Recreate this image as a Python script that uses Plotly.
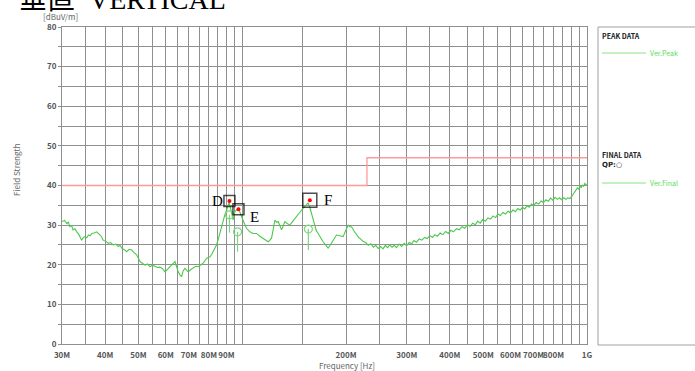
import math
import plotly.graph_objects as go

# ---------------- data ----------------
peak_freq_mhz = [
    30.0, 30.5, 31.0, 31.3, 31.6, 32.0, 32.3, 32.7, 33.1, 33.6, 34.2, 34.6, 35.0, 35.4, 35.8, 36.2,
    36.6, 37.2, 37.8, 38.2, 38.7, 39.1, 39.5, 40.2, 40.9, 41.5, 42.2, 43.0, 43.7, 44.2, 44.7, 45.5,
    46.2, 47.0, 47.8, 48.6, 49.4, 50.0, 50.5, 51.3, 52.2, 53.1, 54.0, 54.9, 55.8, 56.8, 57.7, 58.7,
    59.7, 60.7, 61.7, 62.7, 63.8, 64.5, 65.2, 66.0, 66.7, 67.4, 68.2, 69.0, 69.7, 70.9, 72.1, 73.3,
    74.5, 75.8, 77.0, 77.9, 78.8, 79.7, 80.6, 81.5, 82.4, 83.3, 84.2, 85.1, 86.1, 87.0, 88.0, 89.0,
    90.1, 90.8, 91.6, 92.3, 93.1, 93.6, 94.1, 94.6, 95.2, 96.2, 97.3, 98.4, 99.5, 101.0, 102.9, 104.0,
    105.2, 107.5, 110.0, 112.5, 115.0, 117.0, 118.9, 120.2, 121.6, 122.9, 124.3, 125.7, 127.1, 128.5,
    130.0, 131.4, 132.9, 135.0, 137.4, 139.7, 142.1, 144.5, 146.9, 149.3, 151.8, 153.5, 155.2, 157.0,
    158.8, 160.5, 162.3, 164.0, 166.0, 168.8, 171.6, 174.5, 177.4, 179.5, 181.5, 184.5, 187.6, 191.8,
    196.1, 199.5, 202.8, 205.0, 207.4, 211.0, 214.4, 218.0,
    220, 224, 228, 232, 236, 240, 244, 248, 252, 256, 260, 264, 268, 272, 276, 280, 285, 290, 295,
    300, 305, 310, 315, 320, 326, 332, 338, 344, 350, 356, 362, 368, 375, 382, 389, 396, 403, 410,
    418, 426, 434, 442, 450, 458, 466, 474, 482, 490, 498, 507, 516, 525, 534, 543, 552, 561, 570,
    580, 590, 600, 610, 620, 630, 640, 650, 660, 670, 680, 690, 700, 712, 724, 736, 748, 760, 772,
    784, 796, 808, 820, 832, 844, 856, 868, 880, 892, 904, 914, 922, 930, 938, 946, 954, 962, 970,
    978, 986, 994, 1000,
]
peak_level = [
    30.9, 31.2, 30.4, 30.8, 29.6, 29.9, 28.8, 29.1, 28.3, 27.6, 26.2, 26.9, 27.1, 26.8, 27.5, 27.3,
    27.9, 28.0, 28.3, 28.0, 27.5, 27.0, 26.2, 25.9, 25.4, 25.6, 25.0, 25.2, 24.6, 24.9, 24.2, 23.8,
    23.3, 23.9, 23.7, 23.0, 22.5, 21.6, 20.8, 20.4, 19.9, 20.2, 19.5, 19.9, 19.7, 19.3, 19.4, 19.0,
    18.2, 18.9, 19.5, 20.1, 20.8, 19.5, 18.2, 17.4, 17.0, 18.5, 19.1, 18.6, 18.2, 18.8, 19.1, 19.6,
    19.5, 19.9, 20.4, 21.0, 21.6, 21.8, 22.0, 22.6, 23.3, 24.2, 25.0, 26.3, 27.9, 29.6, 31.3, 32.6,
    33.8, 34.8, 35.7, 34.6, 33.0, 31.8, 31.3, 32.5, 33.4, 33.8, 34.3, 33.3, 32.1, 30.8, 29.2, 28.8,
    28.3, 27.9, 27.9, 27.2, 26.7, 26.1, 25.8, 26.2, 26.7, 28.8, 31.3, 30.7, 30.9, 29.9,
    28.8, 29.8, 30.9, 30.4, 30.0, 30.8, 31.7, 32.5, 33.4, 34.0, 34.7, 35.2, 35.6, 34.5,
    33.0, 31.3, 29.6, 28.6, 27.9, 26.8, 25.8, 25.0, 24.2, 24.8, 25.4, 26.5, 27.5, 27.3,
    27.1, 28.6, 30.0, 29.6, 29.6, 28.5, 27.5, 26.8,
    26.6, 25.9, 25.6, 24.9, 25.3, 24.4, 24.9, 24.1, 24.6, 24.0, 24.9, 24.3, 25.0, 24.4, 24.9, 24.3, 25.2, 24.6, 25.4,
    24.8, 25.6, 25.3, 26.1, 25.7, 26.5, 26.2, 26.9, 26.6, 27.4, 26.9, 27.6, 27.2, 28.0, 27.6, 28.4, 27.9, 28.7, 28.3,
    29.1, 28.8, 29.6, 29.2, 30.1, 29.7, 30.5, 30.1, 31.0, 30.5, 31.4, 31.0, 31.8, 31.5, 32.3, 31.9, 32.8, 32.4, 33.2,
    32.8, 33.5, 33.1, 33.8, 33.4, 34.2, 33.8, 34.5, 34.1, 34.9, 34.5, 35.3, 34.9, 35.7, 35.3, 36.1, 35.7, 36.4, 36.0,
    36.8, 36.3, 37.0, 36.5, 36.9, 36.4, 36.9, 36.5, 36.9, 36.7, 37.3, 37.9, 38.6, 38.9, 39.4, 39.1, 39.8, 39.5, 40.1,
    39.8, 40.5, 40.2, 40.1,
]

limit_freq_mhz = [30, 230, 230, 1000]
limit_level = [40, 40, 47, 47]

final_freq_mhz = [91.8, 96.9, 155.5]
final_level = [32.6, 28.3, 29.0]
final_sweep_drop = [4.5, 5.0, 5.3]

marker_names = ["D", "E", "F"]
marker_freq_mhz = [91.8, 97.5, 157.0]
marker_level = [36.1, 34.0, 36.3]
marker_box_size = [11, 11, 14]
marker_label_shift = [(-12, 0), (16, -8), (18, 0)]

x_grid_mhz = [30, 35, 40, 45, 50, 55, 60, 65, 70, 75, 80, 85, 90, 95, 100,
              150, 200, 250, 300, 350, 400, 450, 500, 550, 600, 650, 700, 750, 800, 850, 900, 950, 1000]
x_tick_text = ["30M", "", "40M", "", "50M", "", "60M", "", "70M", "", "80M", "", "90M", "", "",
               "", "200M", "", "300M", "", "400M", "", "500M", "", "600M", "", "700M", "", "800M", "", "", "", "1G"]
y_grid = [0, 5, 10, 15, 20, 25, 30, 35, 40, 45, 50, 55, 60, 65, 70, 75, 80]
y_tick_text = ["0", "", "10", "", "20", "", "30", "", "40", "", "50", "", "60", "", "70", "", "80"]

# ---------------- figure ----------------
GREEN = "#4cc84c"
GRID = "#8f8f8f"
TICKFONT = dict(family="Noto Sans CJK JP", size=8, color="#555555", weight="bold")

fig = go.Figure()

fig.add_trace(go.Scatter(x=limit_freq_mhz, y=limit_level, mode="lines",
                         line=dict(color="#ff9a9a", width=1.3), hoverinfo="skip"))
fig.add_trace(go.Scatter(x=peak_freq_mhz, y=peak_level, mode="lines",
                         line=dict(color=GREEN, width=1.1), hoverinfo="skip"))
fig.add_trace(go.Scatter(x=final_freq_mhz, y=final_level, mode="markers",
                         marker=dict(symbol="circle-open", size=8, color="#7ed67e", line=dict(width=1.2)),
                         error_y=dict(type="data", symmetric=False, array=[0] * len(final_level),
                                      arrayminus=final_sweep_drop, width=0, color="#7ed67e", thickness=1.2),
                         hoverinfo="skip"))
fig.add_trace(go.Scatter(x=marker_freq_mhz, y=marker_level, mode="markers",
                         marker=dict(symbol="square-open", size=marker_box_size, color="black",
                                     line=dict(width=1.5, color="black")), hoverinfo="skip"))
fig.add_trace(go.Scatter(x=marker_freq_mhz, y=marker_level, mode="markers",
                         marker=dict(symbol="circle", size=4, color="red"), hoverinfo="skip"))

for name, f, lv, (dx, dy) in zip(marker_names, marker_freq_mhz, marker_level, marker_label_shift):
    fig.add_annotation(x=math.log10(f), y=lv, xref="x", yref="y", text=name, showarrow=False,
                       xshift=dx, yshift=dy, font=dict(family="Liberation Serif", size=15, color="black"))

fig.update_xaxes(type="log", range=[math.log10(30), math.log10(1000)],
                 tickmode="array", tickvals=x_grid_mhz, ticktext=x_tick_text, tickangle=0,
                 showgrid=True, gridcolor=GRID, gridwidth=1, zeroline=False,
                 showline=True, linecolor=GRID, linewidth=1, mirror=True, automargin=False,
                 ticks="", tickfont=TICKFONT, ticklabelstandoff=3)
fig.update_yaxes(range=[0, 80], tickmode="array", tickvals=y_grid, ticktext=y_tick_text,
                 showgrid=True, gridcolor=GRID, gridwidth=1, zeroline=False,
                 showline=True, linecolor=GRID, linewidth=1, mirror=True, automargin=False,
                 ticks="outside", ticklen=3, tickcolor=GRID, tickfont=TICKFONT)

L, R, T, B = 62, 108, 27, 27
W, H = 695, 371
pw, ph = W - L - R, H - T - B

def px(xp):
    return (xp - L) / pw

def py(yp):
    return (H - B - yp) / ph

# legend box
fig.add_shape(type="rect", xref="paper", yref="paper", x0=px(598), x1=px(720), y0=py(345), y1=py(27),
              line=dict(color="#a0a0a0", width=1), fillcolor="white", layer="below")
small_bold = dict(family="Noto Sans CJK JP", size=7, color="#222222", weight="bold")
green_txt = dict(family="Noto Sans CJK JP", size=7, color="#55dd55")
fig.add_annotation(xref="paper", yref="paper", x=px(600), y=py(36), text="PEAK DATA", showarrow=False,
                   xanchor="left", yanchor="middle", font=small_bold)
fig.add_shape(type="line", xref="paper", yref="paper", x0=px(602), x1=px(646), y0=py(53), y1=py(53),
              line=dict(color="#88e088", width=1))
fig.add_annotation(xref="paper", yref="paper", x=px(648), y=py(53), text="Ver.Peak", showarrow=False,
                   xanchor="left", yanchor="middle", font=green_txt)
fig.add_annotation(xref="paper", yref="paper", x=px(600), y=py(155), text="FINAL DATA", showarrow=False,
                   xanchor="left", yanchor="middle", font=small_bold)
fig.add_annotation(xref="paper", yref="paper", x=px(600), y=py(165), text="QP:○", showarrow=False,
                   xanchor="left", yanchor="middle",
                   font=dict(family="DejaVu Sans", size=7, color="#222222", weight="bold"))
fig.add_shape(type="line", xref="paper", yref="paper", x0=px(602), x1=px(646), y0=py(183), y1=py(183),
              line=dict(color="#88e088", width=1))
fig.add_annotation(xref="paper", yref="paper", x=px(648), y=py(183), text="Ver.Final", showarrow=False,
                   xanchor="left", yanchor="middle", font=green_txt)

# axis texts
axis_font = dict(family="Noto Sans CJK JP", size=8, color="#666666")
fig.add_annotation(xref="paper", yref="paper", x=px(16), y=py(170), text="Field Strength", showarrow=False,
                   textangle=-90, xanchor="center", yanchor="middle", font=axis_font)
fig.add_annotation(xref="paper", yref="paper", x=px(60), y=py(17), text="[dBuV/m]", showarrow=False,
                   xanchor="center", yanchor="middle", font=axis_font)
fig.add_annotation(xref="paper", yref="paper", x=px(347), y=py(365), text="Frequency [Hz]", showarrow=False,
                   xanchor="center", yanchor="middle", font=axis_font)

# clipped title at very top
fig.add_annotation(xref="paper", yref="paper", x=px(17), y=py(17), text="垂直  VERTICAL", showarrow=False,
                   xanchor="left", yanchor="bottom",
                   font=dict(family="Liberation Serif, Noto Sans CJK JP", size=28, color="black"))

fig.update_layout(width=W, height=H, margin=dict(l=L, r=R, t=T, b=B, autoexpand=False),
                  plot_bgcolor="white", paper_bgcolor="white", showlegend=False)

fig.write_html("out.html", config={"displayModeBar": False},
               post_script="document.body.style.margin='0px';document.body.style.overflow='hidden';")
